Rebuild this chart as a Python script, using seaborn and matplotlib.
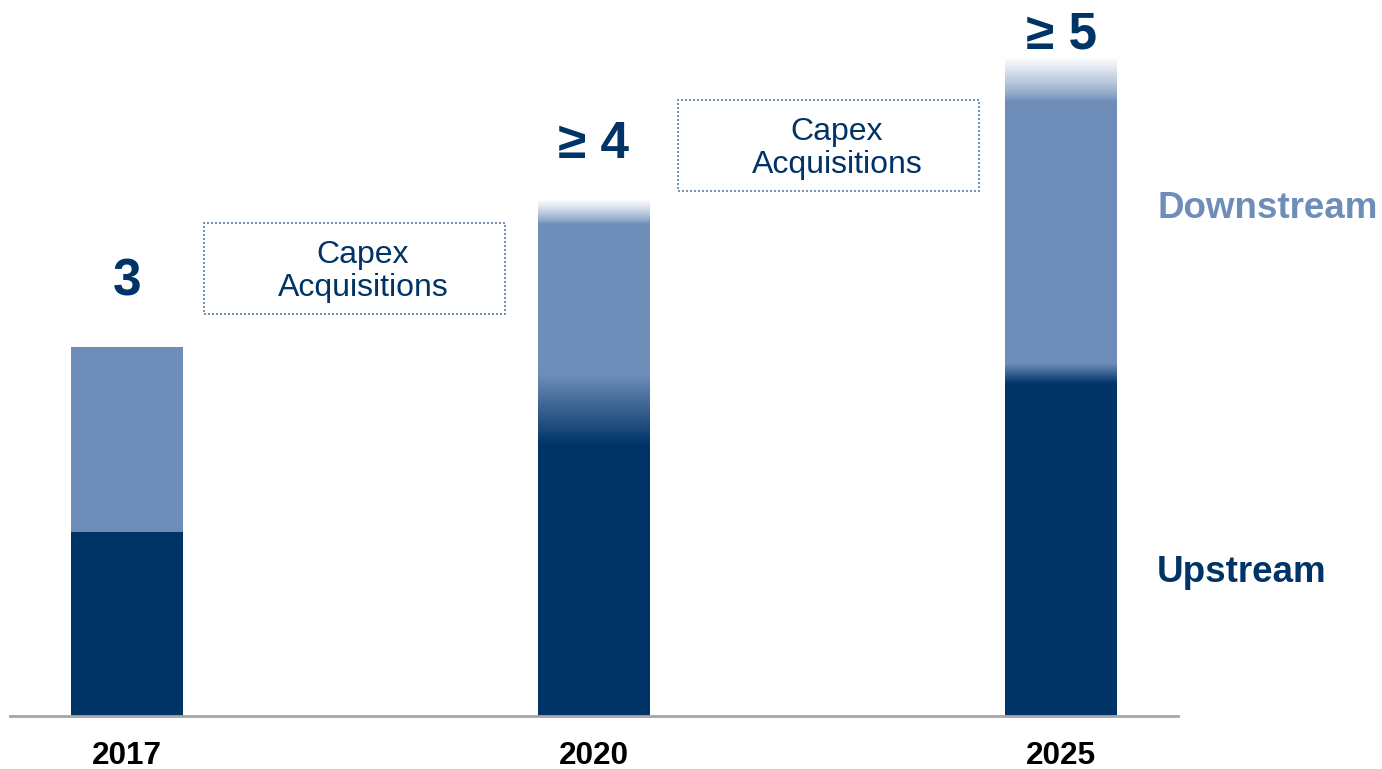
import numpy as np
import pandas as pd
import matplotlib
matplotlib.use("Agg")
import matplotlib.pyplot as plt
from matplotlib.patches import Rectangle
from matplotlib.colors import to_rgb
import seaborn as sns

# Data
years = ["2017", "2020", "2025"]
upstream = [1.5, 2.2, 2.7]
total = [3.0, 4.0, 5.0]
total_labels = ["3", "\u2265 4", "\u2265 5"]
box_text = "Capex\nAcquisitions"

# Styling
NAVY = "#003366"
LIGHT = "#6e8db9"
FONT = ["Liberation Sans", "DejaVu Sans"]

sns.set_theme(style="white")
plt.rcParams["font.family"] = FONT

fig = plt.figure(figsize=(13.82, 7.69), dpi=100)
ax = fig.add_axes([10 / 1382, 53 / 769, 1168 / 1382, 716 / 769])

df = pd.DataFrame({"year": years, "upstream": upstream, "total": total})
bar_w = 0.24
sns.barplot(data=df, x="year", y="total", color=LIGHT, saturation=1,
            width=bar_w, linewidth=0, ax=ax)
sns.barplot(data=df, x="year", y="upstream", color=NAVY, saturation=1,
            width=bar_w, linewidth=0, ax=ax)

# Soft blend between upstream and downstream segments (depth above upstream top)
blend = [0.0, 0.58, 0.17]
# Fade-out above the open-ended totals
fade = [0.0, 0.2, 0.36]

steps = 48
c_dark = np.array(to_rgb(NAVY))
c_light = np.array(to_rgb(LIGHT))
white = np.ones(3)
for i in range(len(years)):
    if blend[i] > 0:
        dh = blend[i] / steps
        for k in range(steps):
            f = (k + 0.5) / steps
            col = c_dark * (1 - f) + c_light * f
            ax.bar(i, dh, bottom=upstream[i] + k * dh, width=bar_w, color=col,
                   linewidth=0, zorder=3)
    if fade[i] > 0:
        dh = fade[i] / steps
        for k in range(steps):
            f = ((k + 0.5) / steps) ** 0.8
            col = c_light * (1 - f) + white * f
            ax.bar(i, dh, bottom=total[i] + k * dh, width=bar_w, color=col,
                   linewidth=0, zorder=3)

ax.set_xlim(-117 / 467, 2 + 117 / 467)
ax.set_ylim(0, 716 / 123)

# Total labels above the bars
label_offsets_px = [65, 79, 66]
for i, (v, lab) in enumerate(zip(total, total_labels)):
    ax.annotate(lab, xy=(i, v), xytext=(0, label_offsets_px[i] * 0.72),
                textcoords="offset points", ha="center", va="center",
                fontsize=37, fontweight="bold", color=NAVY, family=FONT)

# Axes cosmetics
for s in ["top", "right", "left"]:
    ax.spines[s].set_visible(False)
ax.spines["bottom"].set_color("#a6a6a6")
ax.spines["bottom"].set_linewidth(2)
ax.set_yticks([])
ax.set_xlabel("")
ax.set_ylabel("")
ax.tick_params(axis="x", length=0, pad=18)
for tl in ax.get_xticklabels():
    tl.set_fontsize(22.7)
    tl.set_fontweight("bold")
    tl.set_color("black")

# Dotted annotation boxes between the bars
for (bx, by) in [(204, 314), (678, 191)]:
    left, bottom = bx / 1382, (769 - by) / 769
    w, h = 301 / 1382, 91 / 769
    fig.patches.append(Rectangle((left, bottom), w, h, transform=fig.transFigure,
                                 fill=False, edgecolor="#5f7f9f", linewidth=1.2,
                                 linestyle=(0, (1.2, 1.2))))
    fig.text(left + w / 2 + 8.5 / 1382, bottom + h / 2 - 3 / 769, box_text,
             ha="center", va="center", fontsize=23, color=NAVY,
             linespacing=1.17, family=FONT)

# Segment legend on the right
fig.text(1157 / 1382, (769 - 208) / 769, "Downstream", ha="left", va="center",
         fontsize=26.5, fontweight="bold", color=LIGHT, family=FONT)
fig.text(1157 / 1382, (769 - 572) / 769, "Upstream", ha="left", va="center",
         fontsize=26.5, fontweight="bold", color=NAVY, family=FONT)

fig.savefig("out.png", dpi=100, facecolor="white")
